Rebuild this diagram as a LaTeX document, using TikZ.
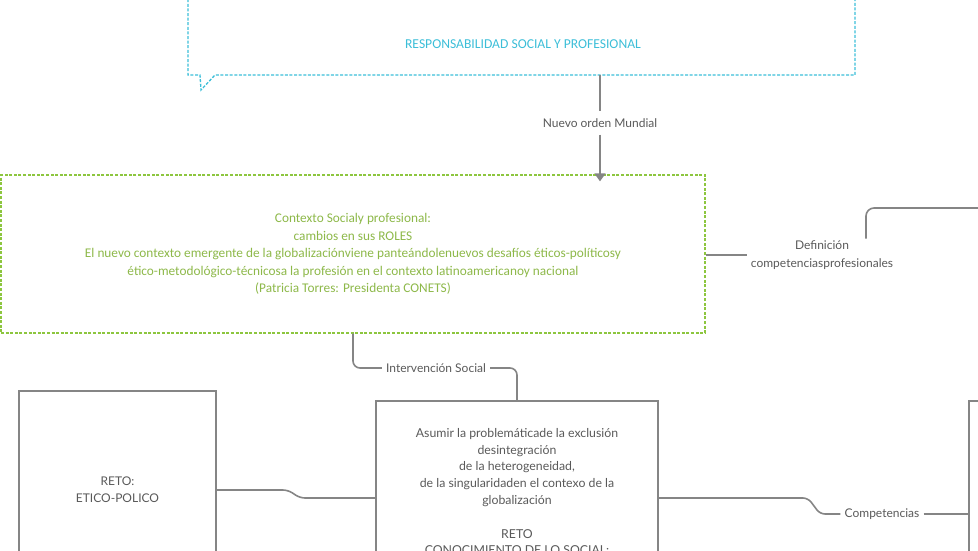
\documentclass[tikz,border=0pt]{standalone}
\usepackage{fontspec}
\setmainfont{Lato}
\newfontfamily\boxfont{Carlito}
\usetikzlibrary{arrows.meta}
\definecolor{lineg}{HTML}{858585}
\definecolor{textg}{HTML}{595959}
\definecolor{cyanc}{HTML}{3CBED8}
\definecolor{greenc}{HTML}{8DC63F}
\definecolor{greent}{HTML}{8DB849}
\begin{document}
\begin{tikzpicture}[x=1pt,y=-1pt,
  conn/.style={draw=lineg,line width=1.6pt},
  lab/.style={text=textg,font=\fontsize{12}{14}\selectfont,inner xsep=4pt,inner ysep=7pt,align=center},
  greybox/.style={draw=lineg,line width=1.6pt,text=textg,align=center,font=\fontsize{12}{16.8}\selectfont},
  greenbox/.style={draw=greenc,line width=1.3pt,dash pattern=on 3pt off 1.6pt,text=greent,align=center,font=\boxfont\fontsize{13.3}{17.5}\selectfont},
  bluedash/.style={draw=cyanc,line width=1.3pt,dash pattern=on 3pt off 1.6pt}
]
\useasboundingbox (0,0) rectangle (978,550);
\clip (0,0) rectangle (978,550);
% top callout
\node[text=cyanc,font=\boxfont\fontsize{13.6}{15}\selectfont] (resp) at (523,44) {RESPONSABILIDAD SOCIAL Y  PROFESIONAL};
\draw[bluedash] (188,-10) -- (188,75) -- (200,75) -- (201,90) -- (215,75) -- (855,75) -- (855,-10);
\coordinate (respb) at (600,75);
% green box
\node[greenbox,minimum width=704pt,minimum height=158pt,inner sep=0pt] (ctx) at (353,254)
 {Contexto Socialy profesional:\\
 cambios  en sus  ROLES\\
 El  nuevo contexto emergente de la globalizaciónviene panteándolenuevos desafíos  éticos-políticosy\\
 ético-metodológico-técnicosa la profesión en el contexto latinoamericanoy nacional\\
 (Patricia Torres:  Presidenta CONETS)};
% labels
\node[lab] (nuevo) at (600,123) {Nuevo orden Mundial};
\node[lab] (intv) at (436,368) {Intervención  Social};
\node[lab,inner ysep=2pt,font=\fontsize{12}{17.5}\selectfont] (def) at (822,255) {Definición\\competenciasprofesionales};
\node[lab] (comp) at (882,514) {Competencias};
% grey boxes
\node[greybox,minimum width=197pt,minimum height=198pt,inner sep=0pt] (lbox) at (117.5,490) {RETO:\\ETICO-POLICO};
\node[greybox,minimum width=282pt,minimum height=220pt,anchor=north] (cbox) at (517,400) {};
\node[text=textg,align=center,font=\fontsize{12.3}{16.8}\selectfont,anchor=north,inner sep=0pt] (ctext) at (517,428)
 {Asumir la problemáticade la exclusión\\
 desintegración\\
 de la heterogeneidad,\\
 de la singularidaden el contexo de la\\
 globalización\\[16.8pt]
 RETO\\
 CONOCIMIENTO DE LO SOCIAL:};
\node[greybox,minimum width=200pt,minimum height=220pt,anchor=north west] (rbox) at (968,400) {};
% connectors
\draw[conn] (respb) -- (nuevo.north);
\draw[conn,-{Triangle[length=8pt,width=11pt]},shorten >=-7pt] (nuevo.south) -- (ctx.north -| nuevo.south);
\draw[conn,rounded corners=7pt] (ctx.south) |- (intv.west);
\draw[conn,rounded corners=7pt] (intv.east) -| (cbox.north);
\draw[conn] (ctx.east |- def.west) -- (def.west);
\draw[conn,rounded corners=8pt] (def.north -| 866,0) |- (990,208);
\draw[conn,rounded corners=5pt] (lbox.east) -- (288,490) -- (300,498) -- (cbox.west |- 0,498);
\draw[conn,rounded corners=5pt] (cbox.east |- 0,498) -- (808,498) -- (820,514) -- (comp.west);
\draw[conn] (comp.east) -- (rbox.west |- comp.east);
\end{tikzpicture}
\end{document}
